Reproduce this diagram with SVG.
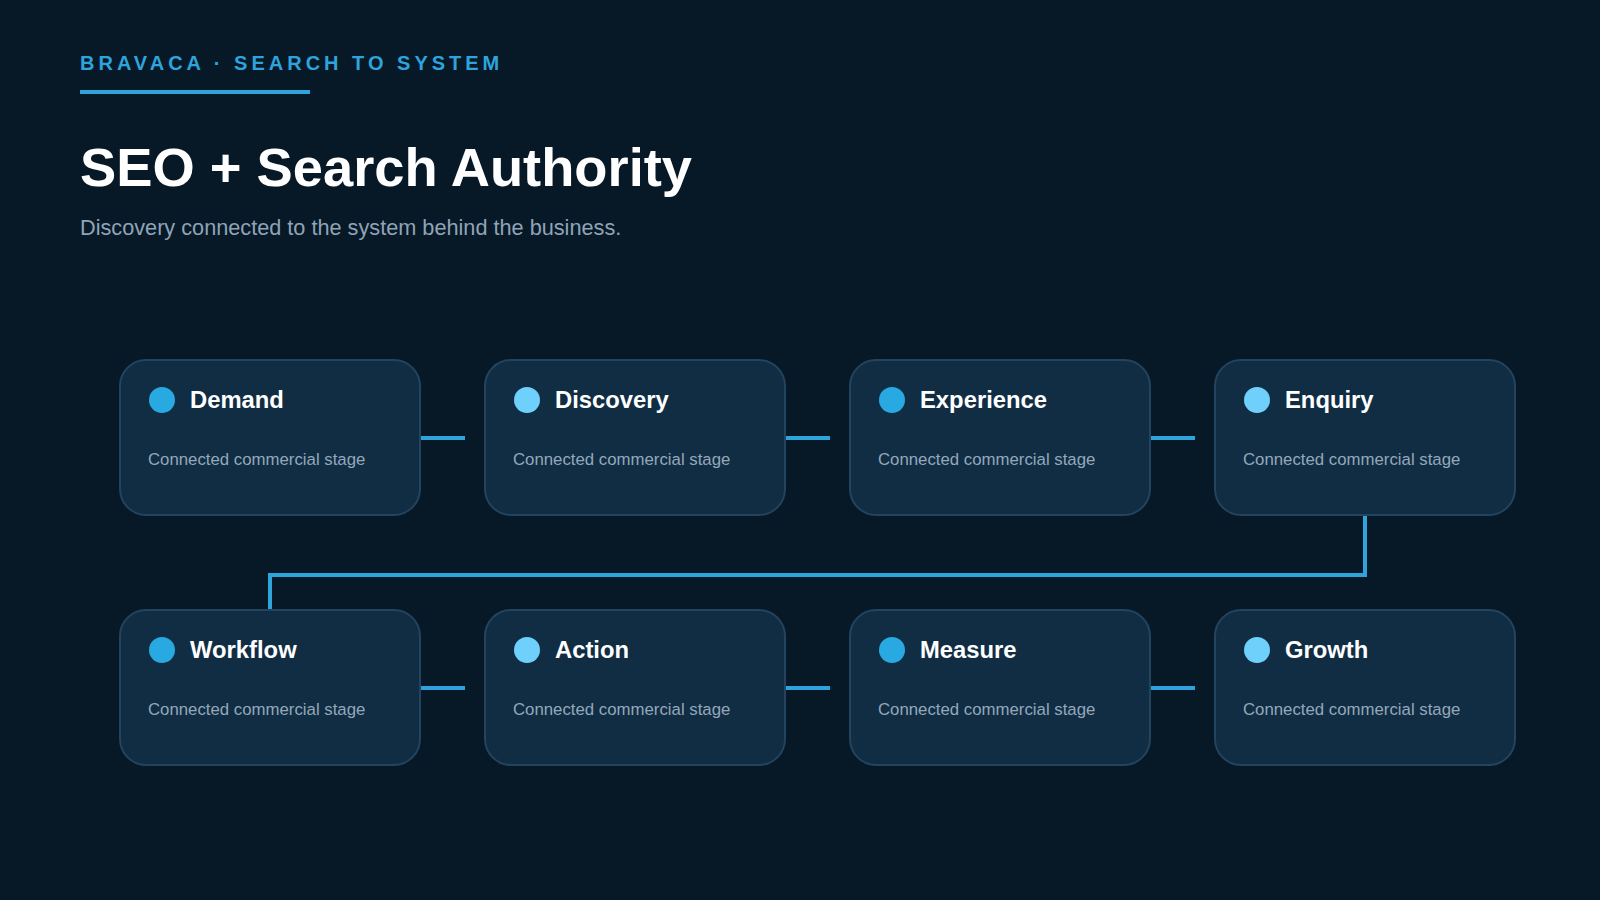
<svg xmlns="http://www.w3.org/2000/svg" width="1600" height="900" viewBox="0 0 1600 900">
<style>
.bg{fill:#071827}
.card{fill:#112d44;stroke:#23445e;stroke-width:2}
.dotA{fill:#29a9e1}
.dotB{fill:#6fd0fb}
.ttl{font-family:"Liberation Sans",Arial,sans-serif;font-weight:bold;font-size:23.8px;fill:#ffffff}
.sub{font-family:"Liberation Sans",Arial,sans-serif;font-size:16.8px;fill:#93a8ba}
.conn{fill:none;stroke:#2ea3dc;stroke-width:4}
</style>
<rect class="bg" x="0" y="0" width="1600" height="900"/>
<g id="header">
<text x="80" y="70" font-family="Liberation Sans,Arial,sans-serif" font-weight="bold" font-size="20" letter-spacing="4" fill="#2ea3dc">BRAVACA · SEARCH TO SYSTEM</text>
<rect x="80" y="90" width="230" height="4" fill="#2ea3dc"/>
<text x="80" y="186" font-family="Liberation Sans,Arial,sans-serif" font-weight="bold" font-size="54.3" fill="#ffffff">SEO + Search Authority</text>
<text x="80" y="235" font-family="Liberation Sans,Arial,sans-serif" font-size="21.7" fill="#8fa4b6">Discovery connected to the system behind the business.</text>
</g>
<g id="connectors">
<line class="conn" x1="420" y1="438" x2="465" y2="438"/>
<line class="conn" x1="785" y1="438" x2="830" y2="438"/>
<line class="conn" x1="1150" y1="438" x2="1195" y2="438"/>
<path class="conn" d="M1365 515 V575 H270 V610"/>
<line class="conn" x1="420" y1="688" x2="465" y2="688"/>
<line class="conn" x1="785" y1="688" x2="830" y2="688"/>
<line class="conn" x1="1150" y1="688" x2="1195" y2="688"/>
</g>
<g id="node-demand"><rect class="card" x="120" y="360" width="300" height="155" rx="26"/><circle class="dotA" cx="162" cy="400" r="13"/><text class="ttl" x="190" y="408">Demand</text><text class="sub" x="148" y="465">Connected commercial stage</text></g>
<g id="node-discovery"><rect class="card" x="485" y="360" width="300" height="155" rx="26"/><circle class="dotB" cx="527" cy="400" r="13"/><text class="ttl" x="555" y="408">Discovery</text><text class="sub" x="513" y="465">Connected commercial stage</text></g>
<g id="node-experience"><rect class="card" x="850" y="360" width="300" height="155" rx="26"/><circle class="dotA" cx="892" cy="400" r="13"/><text class="ttl" x="920" y="408">Experience</text><text class="sub" x="878" y="465">Connected commercial stage</text></g>
<g id="node-enquiry"><rect class="card" x="1215" y="360" width="300" height="155" rx="26"/><circle class="dotB" cx="1257" cy="400" r="13"/><text class="ttl" x="1285" y="408">Enquiry</text><text class="sub" x="1243" y="465">Connected commercial stage</text></g>
<g id="node-workflow"><rect class="card" x="120" y="610" width="300" height="155" rx="26"/><circle class="dotA" cx="162" cy="650" r="13"/><text class="ttl" x="190" y="658">Workflow</text><text class="sub" x="148" y="715">Connected commercial stage</text></g>
<g id="node-action"><rect class="card" x="485" y="610" width="300" height="155" rx="26"/><circle class="dotB" cx="527" cy="650" r="13"/><text class="ttl" x="555" y="658">Action</text><text class="sub" x="513" y="715">Connected commercial stage</text></g>
<g id="node-measure"><rect class="card" x="850" y="610" width="300" height="155" rx="26"/><circle class="dotA" cx="892" cy="650" r="13"/><text class="ttl" x="920" y="658">Measure</text><text class="sub" x="878" y="715">Connected commercial stage</text></g>
<g id="node-growth"><rect class="card" x="1215" y="610" width="300" height="155" rx="26"/><circle class="dotB" cx="1257" cy="650" r="13"/><text class="ttl" x="1285" y="658">Growth</text><text class="sub" x="1243" y="715">Connected commercial stage</text></g>
</svg>
